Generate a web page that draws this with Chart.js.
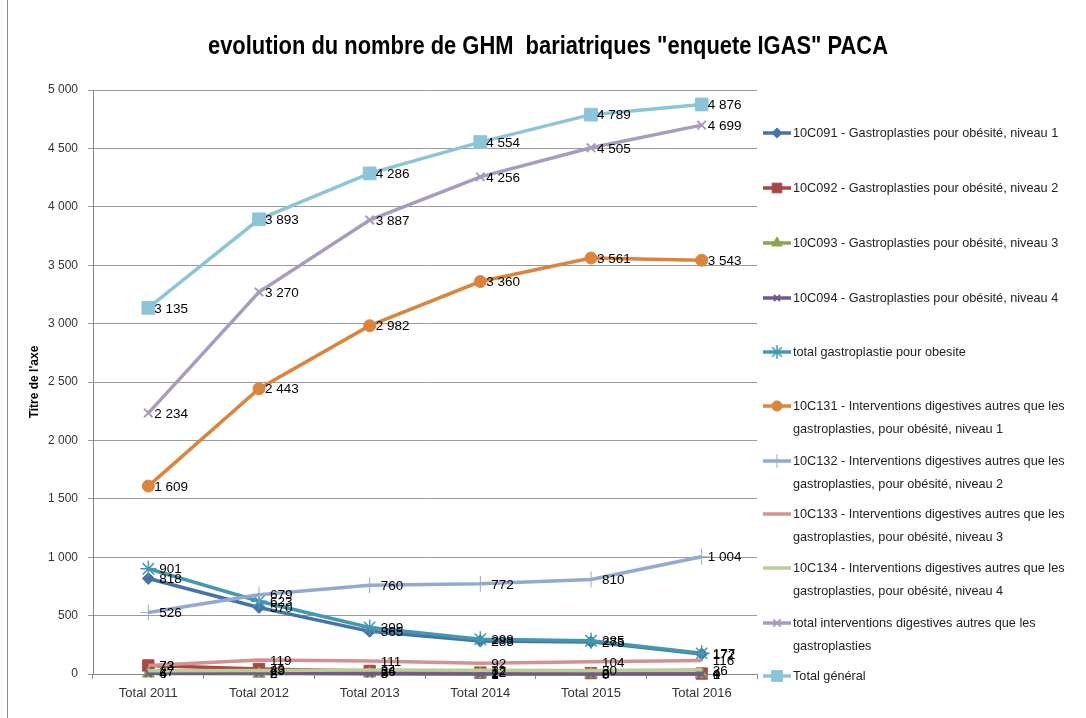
<!DOCTYPE html>
<html><head><meta charset="utf-8">
<script src="https://cdn.jsdelivr.net/npm/chart.js@4.4.1/dist/chart.umd.min.js"></script>
<style>
html,body{margin:0;padding:0;background:#fff;}
#wrap{position:relative;width:1086px;height:718px;overflow:hidden;}
#frame{position:absolute;left:7px;top:0;width:1px;height:718px;background:#8c8c8c;}
</style>
</head><body>
<div id="wrap"><canvas id="c" width="1086" height="718"></canvas><div id="frame"></div></div>
<script>
// ---- data ----
const categories = ['Total 2011','Total 2012','Total 2013','Total 2014','Total 2015','Total 2016'];
const s10C091 = [818, 570, 365, 283, 275, 172];
const s10C092 = [73, 43, 26, 12, 8, 4];
const s10C093 = [4, 2, 5, 2, 2, 1];
const s10C094 = [6, 8, 3, 1, 0, 0];
const totalGastro = [901, 623, 399, 298, 285, 177];
const s10C131 = [1609, 2443, 2982, 3360, 3561, 3543];
const s10C132 = [526, 679, 760, 772, 810, 1004];
const s10C133 = [72, 119, 111, 92, 104, 116];
const s10C134 = [27, 29, 34, 32, 30, 36];
const totalInterv = [2234, 3270, 3887, 4256, 4505, 4699];
const totalGeneral = [3135, 3893, 4286, 4554, 4789, 4876];
const seriesNames = [
  '10C091 - Gastroplasties pour obésité, niveau 1',
  '10C092 - Gastroplasties pour obésité, niveau 2',
  '10C093 - Gastroplasties pour obésité, niveau 3',
  '10C094 - Gastroplasties pour obésité, niveau 4',
  'total gastroplastie pour obesite',
  '10C131 - Interventions digestives autres que les\ngastroplasties, pour obésité, niveau 1',
  '10C132 - Interventions digestives autres que les\ngastroplasties, pour obésité, niveau 2',
  '10C133 - Interventions digestives autres que les\ngastroplasties, pour obésité, niveau 3',
  '10C134 - Interventions digestives autres que les\ngastroplasties, pour obésité, niveau 4',
  'total interventions digestives autres que les\ngastroplasties',
  'Total général'
];
const yMin = 0, yMax = 5000, yStep = 500;
const TITLE = 'evolution du nombre de GHM  bariatriques "enquete IGAS" PACA';
const AXIS_TITLE = "Titre de l'axe";

// ---- styles ----
const seriesData = [s10C091, s10C092, s10C093, s10C094, totalGastro, s10C131, s10C132, s10C133, s10C134, totalInterv, totalGeneral];
const styles = [
  {c:'#4572A7', ps:'rectRot', r:6, bw:1},
  {c:'#AA4643', ps:'rect', r:8, bw:1},
  {c:'#89A54E', ps:'triangle', r:7, bw:1},
  {c:'#71588F', ps:'crossRot', r:5, bw:2},
  {c:'#4198AF', ps:'star', r:8, bw:1.5},
  {c:'#DB843D', ps:'circle', r:6, bw:1},
  {c:'#93A9CF', ps:'cross', r:8, bw:1},
  {c:'#D19392', ps:'circle', r:0, bw:0},
  {c:'#B9CD96', ps:'circle', r:0, bw:0},
  {c:'#A99BBD', ps:'crossRot', r:6, bw:2},
  {c:'#8CC4D8', ps:'rect', r:9, bw:1}
];
const legendRows = [133, 188, 243, 298, 352, 406, 461, 514, 568, 623, 676];
const N = seriesData.length;

const fmt = v => String(v).replace(/\B(?=(\d{3})+(?!\d))/g, ' ');
const FONT = '"Liberation Sans", Arial, sans-serif';

const datasets = seriesData.map((d, i) => ({
  label: seriesNames[i],
  data: d,
  borderColor: styles[i].c,
  backgroundColor: styles[i].c,
  pointBorderColor: styles[i].c,
  pointBackgroundColor: styles[i].c,
  borderWidth: 3.5,
  pointStyle: styles[i].ps,
  pointRadius: styles[i].r,
  pointBorderWidth: styles[i].bw,
  tension: 0,
  clip: false,
  order: N - i
}));

const overlay = {
  id: 'overlay',
  afterDatasetsDraw(chart) {
    const ctx = chart.ctx;
    ctx.save();
    ctx.font = '13.5px ' + FONT;
    ctx.fillStyle = '#000';
    ctx.textBaseline = 'middle';
    ctx.textAlign = 'left';
    chart.data.datasets.forEach((ds, i) => {
      const meta = chart.getDatasetMeta(i);
      meta.data.forEach((pt, j) => {
        const v = ds.data[j];
        ctx.fillText(fmt(v), pt.x + (v >= 1000 ? 6 : 11), pt.y + 1);
      });
    });
    ctx.restore();
  },
  afterDraw(chart) {
    const ctx = chart.ctx;
    // title
    ctx.save();
    ctx.font = 'bold 25px ' + FONT;
    ctx.fillStyle = '#000';
    ctx.textBaseline = 'middle';
    ctx.textAlign = 'center';
    const w = ctx.measureText(TITLE).width;
    ctx.translate(548, 47);
    ctx.scale(680 / w, 1);
    ctx.fillText(TITLE, 0, 0);
    ctx.restore();
    // legend
    ctx.save();
    chart.data.datasets.forEach((ds, i) => {
      const y = legendRows[i];
      ctx.strokeStyle = ds.borderColor;
      ctx.fillStyle = ds.borderColor;
      ctx.lineWidth = 3.5;
      ctx.beginPath(); ctx.moveTo(763, y); ctx.lineTo(791, y); ctx.stroke();
      if (ds.pointRadius > 0 && Chart.helpers && Chart.helpers.drawPoint) {
        ctx.lineWidth = ds.pointBorderWidth;
        Chart.helpers.drawPoint(ctx, {pointStyle: ds.pointStyle, radius: ds.pointRadius * 0.85, borderWidth: ds.pointBorderWidth, rotation: 0}, 777, y);
      }
      ctx.fillStyle = '#222';
      ctx.font = '12.7px ' + FONT;
      ctx.textBaseline = 'middle';
      ctx.textAlign = 'left';
      ds.label.split('\n').forEach((line, k) => ctx.fillText(line, 793, y + k * 23));
    });
    ctx.restore();
  }
};

new Chart(document.getElementById('c'), {
  type: 'line',
  data: { labels: categories, datasets },
  plugins: [overlay],
  options: {
    responsive: false,
    animation: false,
    devicePixelRatio: 1,
    layout: { padding: { top: 90, right: 329, bottom: 0, left: 0 } },
    plugins: { legend: { display: false }, title: { display: false }, tooltip: { enabled: false } },
    scales: {
      x: {
        offset: true,
        grid: { display: true, drawOnChartArea: false, drawTicks: true, tickLength: 5, offset: true, color: '#868686' },
        border: { color: '#868686' },
        ticks: { color: '#333', font: { size: 13, family: FONT }, padding: 7, maxRotation: 0 },
        afterFit(s) { s.height = 44; }
      },
      y: {
        min: yMin, max: yMax,
        ticks: { stepSize: yStep, color: '#333', font: { size: 12, family: FONT }, padding: 10, callback: v => fmt(v) },
        grid: { color: '#9a9a9a', tickLength: 5 },
        border: { color: '#868686' },
        title: { display: true, text: AXIS_TITLE, color: '#000', font: { size: 12, weight: 'bold', family: FONT }, padding: { top: 27, bottom: 0 } },
        afterFit(s) { s.width = 93; }
      }
    }
  }
});
</script>
</body></html>
